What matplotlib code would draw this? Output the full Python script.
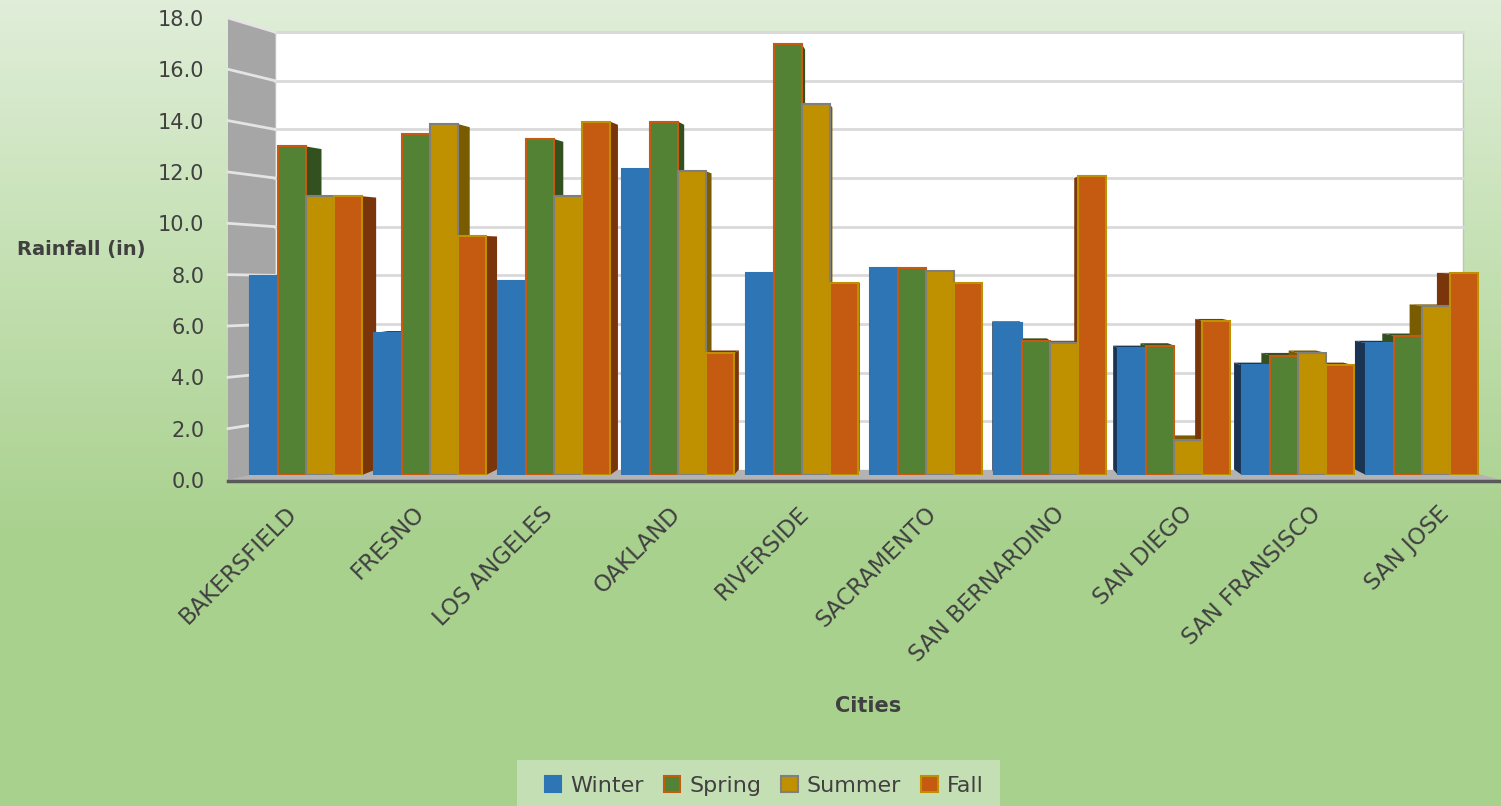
import numpy as np
import matplotlib
matplotlib.use("Agg")
import matplotlib.pyplot as plt
from matplotlib.patches import Polygon, Rectangle, Patch
from matplotlib.colors import LinearSegmentedColormap
import matplotlib.transforms as mtransforms

# ---------------- data ----------------
cities = ["BAKERSFIELD", "FRESNO", "LOS ANGELES", "OAKLAND", "RIVERSIDE",
          "SACRAMENTO", "SAN BERNARDINO", "SAN DIEGO", "SAN FRANSISCO", "SAN JOSE"]
seasons = ["Winter", "Spring", "Summer", "Fall"]
winter = [8.0, 5.7, 7.8, 12.3, 8.1, 8.3, 6.1, 5.1, 4.4, 5.3]
spring = [13.2, 13.7, 13.5, 14.2, 17.3, 8.3, 5.4, 5.2, 4.8, 5.6]
summer = [11.2, 14.1, 11.2, 12.2, 14.9, 8.2, 5.3, 1.4, 4.9, 6.8]
fall = [11.2, 9.6, 14.2, 4.9, 7.7, 7.7, 12.0, 6.2, 4.4, 8.1]
yticks = [0, 2, 4, 6, 8, 10, 12, 14, 16, 18]

series = [winter, spring, summer, fall]
face = ["#2e75b6", "#548235", "#bf9000", "#c55a11"]
edge = ["#2e75b6", "#c55a11", "#7f7f7f", "#bf9000"]
dark = ["#1a3553", "#33501f", "#7a5c00", "#7a350a"]

W, H = 1501, 806
fig = plt.figure(figsize=(W / 100, H / 100), dpi=100)
TXT = "#404040"

# ---------------- background / walls (pixel space) ----------------
bg = fig.add_axes([0, 0, 1, 1], zorder=0)
bg.set_xlim(0, W)
bg.set_ylim(H, 0)
bg.axis("off")
cmap = LinearSegmentedColormap.from_list("g", ["#e0eed9", "#c4e0b2", "#a9d18e", "#a9d18e"])
grad = np.linspace(0, 1, 256).reshape(-1, 1)
bg.imshow(grad, extent=[0, W, H, 0], cmap=cmap, aspect="auto", zorder=0)

xl, xb, xr, xfr = 228, 275, 1463, 1501
front0, front_px = 480, 25.67
back0, back_px = 470, 24.33
bg.add_patch(Rectangle((xb, back0 - 18 * back_px), xr - xb, 18 * back_px,
                       facecolor="white", edgecolor="#b8c9b0", lw=1, zorder=1))
bg.add_patch(Polygon([(xl, front0 - 18 * front_px), (xb, back0 - 18 * back_px),
                      (xb, back0), (xl, front0)], closed=True,
                     facecolor="#a6a6a6", edgecolor="none", zorder=1))
bg.add_patch(Polygon([(xl, front0), (xb, back0), (xr, back0), (xfr, front0)],
                     closed=True, facecolor="#b3b3b3", edgecolor="none", zorder=1))
for v in yticks[1:]:
    by = back0 - v * back_px
    fy = front0 - v * front_px
    bg.plot([xb, xr], [by, by], color="#d9d9d9", lw=2, zorder=2)
    bg.plot([xl, xb], [fy, by], color="#e4e4e4", lw=2, zorder=2)
bg.plot([xl, W], [front0 + 1, front0 + 1], color="#595959", lw=2.5, zorder=2)
# legend box
bg.add_patch(Rectangle((517, 760), 483, 60, facecolor="#c5dfb5", edgecolor="none", zorder=1))

# ---------------- bars ----------------
y0_px, y18_px = 475, 27
xpx0, xpx_step = 306, 124
ax = fig.add_axes([xl / W, (H - y0_px) / H, (W - xl) / W, (y0_px - y18_px) / H], zorder=2)
ax.set_xlim((xl - xpx0) / xpx_step, (W - xpx0) / xpx_step)
ax.set_ylim(0, 18)
ax.patch.set_alpha(0)
for s in ax.spines.values():
    s.set_visible(False)
ax.tick_params(axis="y", left=False, labelleft=False)
ax.tick_params(axis="x", length=0, pad=0)

bw = 0.226
vpx, vpy, shrink = 5.0, 9.0, 0.025


def back(x, y):
    return vpx + (x - vpx) * (1 - shrink), vpy + (y - vpy) * (1 - shrink)


x = np.arange(len(cities))
for j, vals in enumerate(series):
    xs = x + (j - 1.5) * bw
    for xc, v in zip(xs, vals):
        x0, x1 = xc - bw / 2, xc + bw / 2
        xe = x1 if xc < vpx else x0
        bx, bt = back(xe, v)
        _, bb = back(xe, 0)
        ax.add_patch(Polygon([(xe, 0), (xe, v), (bx, bt), (bx, bb)], closed=True,
                             facecolor=dark[j], edgecolor="none", zorder=2))
        if v < vpy:
            ax0, at0 = back(x0, v)
            ax1, at1 = back(x1, v)
            ax.add_patch(Polygon([(x0, v), (x1, v), (ax1, at1), (ax0, at0)], closed=True,
                                 facecolor=dark[j], edgecolor="none", zorder=2))
    ax.bar(xs, vals, width=bw, color=face[j], edgecolor=edge[j], linewidth=1.5,
           zorder=3)

ax.set_xticks(x)
ax.set_xticklabels(cities, rotation=45, ha="right", va="top", rotation_mode="anchor",
                   fontsize=16.5, color=TXT)
# labels sit on the front plane, which is slightly wider than the bar plane
for i, lab in enumerate(ax.get_xticklabels()):
    off = mtransforms.ScaledTranslation((-21 + 4 * i) / 100, -27 / 100, fig.dpi_scale_trans)
    lab.set_transform(lab.get_transform() + off)

# ---------------- front y scale (tick labels) ----------------
axf = fig.add_axes([xl / W, (H - front0) / H, 1 / W, 18 * front_px / H], zorder=1)
axf.set_ylim(0, 18)
axf.set_yticks(yticks)
axf.set_yticklabels([f"{t:.1f}" for t in yticks], fontsize=15, color=TXT)
axf.tick_params(axis="y", length=0, pad=17)
axf.set_xticks([])
axf.patch.set_alpha(0)
for s in axf.spines.values():
    s.set_visible(False)

fig.text(81 / W, 1 - 250 / H, "Rainfall (in)", ha="center", va="center",
         fontsize=14, fontweight="bold", color=TXT)
fig.text(868 / W, 1 - 706 / H, "Cities", ha="center", va="center",
         fontsize=15, fontweight="bold", color=TXT)

handles = [Patch(facecolor=face[j], edgecolor=edge[j], linewidth=1.5, label=seasons[j])
           for j in range(4)]
fig.legend(handles=handles, loc="center", bbox_to_anchor=(764 / W, 1 - 786 / H),
           ncol=4, frameon=False, fontsize=16, handlelength=0.75, handleheight=0.75,
           handletextpad=0.4, columnspacing=0.9, labelcolor=TXT)

fig.savefig("out.png", dpi=100)
